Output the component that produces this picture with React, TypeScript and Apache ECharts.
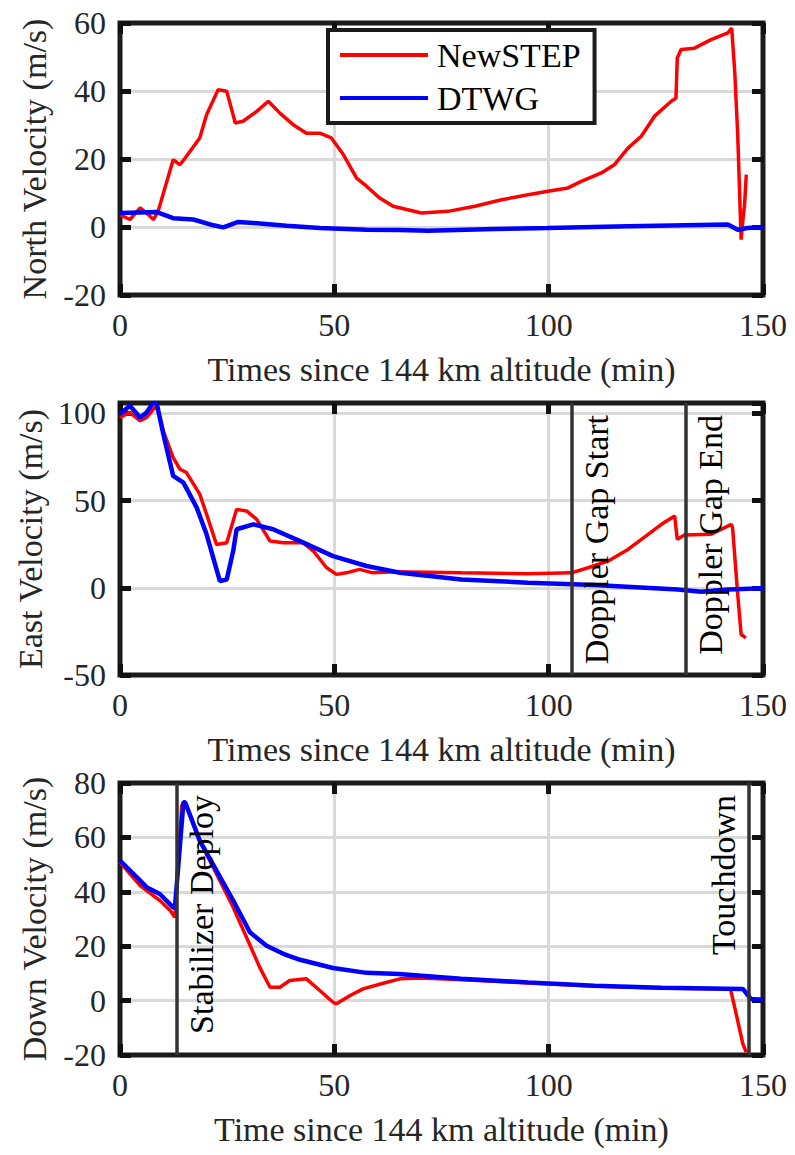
import React, { useEffect, useRef } from 'react';
import * as echarts from 'echarts';

const FONT = 'Liberation Serif';
const TXT = '#262626';

// ---- North velocity ----
const northNewT = [0, 2.3, 4.7, 6.2, 7.8, 8.9, 12.4, 14, 15.2, 18.6, 20.2, 22.9, 24.9, 26.9, 28.7, 31.9, 34.6, 37.3, 40.4, 43.5, 46.6, 49.3, 52.1, 55.2, 57.5, 60.6, 63.7, 70.3, 76.5, 82.8, 89, 95.2, 99.8, 104.5, 107.6, 112.3, 115.4, 118.5, 121.6, 124.7, 128.6, 129.7, 130, 130.9, 134, 137.9, 141.8, 142.7, 143.4, 144.1, 144.9, 145.3, 145.7, 146.1];
const northNewV = [3.6, 2.2, 5.6, 4.1, 2.2, 4.6, 19.8, 18.3, 20.3, 26.2, 33, 40.4, 39.9, 30.6, 31.1, 34, 37, 33.5, 30.1, 27.6, 27.6, 26.2, 21.3, 14.4, 12, 8.5, 6.1, 4.1, 4.6, 6.1, 8, 9.5, 10.5, 11.5, 13.4, 15.9, 18.4, 23.2, 26.7, 32.6, 37, 37.9, 49.7, 52.2, 52.6, 55.1, 57.1, 58.5, 45.8, 27.2, -3.7, 2, 6.6, 15.4];
const northDtwgT = [0, 8.6, 12.4, 17.1, 21.8, 24.1, 27.6, 31.1, 38.9, 46.6, 57.5, 65.1, 71.9, 87.4, 99.8, 118.5, 141.8, 144.1, 146.4, 150];
const northDtwgV = [4.1, 4.4, 2.6, 2.2, 0.5, -0.1, 1.5, 1.2, 0.4, -0.3, -0.8, -0.9, -1.1, -0.6, -0.3, 0.2, 0.7, -0.8, -0.3, 0];

// ---- East velocity ----
const eastNewT = [0, 2.3, 4.7, 6.2, 7.8, 8.6, 10.1, 12.4, 14, 15.5, 18.6, 20.2, 22.5, 24.9, 27.2, 29.5, 31.9, 35, 38.1, 42.7, 45.1, 48.2, 50.5, 52.8, 55.9, 59, 64.1, 79.6, 95.2, 105.3, 109.2, 113.8, 118.5, 123.2, 126.3, 129.4, 130, 131.7, 137.9, 142.6, 142.9, 144.1, 144.9, 146];
const eastNewV = [97.7, 100.6, 95.8, 97.7, 102.5, 104.4, 90, 74.7, 68, 66.1, 53.7, 42.2, 24.9, 25.9, 45, 44.1, 39.3, 26.8, 25.9, 25.9, 21.1, 11.5, 7.7, 8.6, 10.6, 8.6, 9.2, 8.6, 8, 8.6, 11.5, 15.3, 22, 30.7, 36.4, 41.2, 27.8, 30.3, 30.7, 36.4, 34.5, -3.8, -26.8, -28.7];
const eastDtwgT = [0, 2.3, 4.7, 6.2, 7.8, 8.6, 10.1, 12.4, 14.8, 17.9, 20.2, 23.3, 24.9, 26.4, 27.2, 31.1, 35.7, 42, 49.7, 57.5, 65.3, 79.6, 95.2, 110.7, 130.1, 135.6, 141.8, 150];
const eastDtwgV = [99.7, 104.4, 97.7, 100.6, 106.3, 105.4, 88.2, 64.2, 60.3, 46, 30.7, 3.9, 4.8, 21.1, 33.6, 36.4, 33.6, 26.8, 18.2, 12.5, 8.6, 4.8, 2.9, 1.6, -0.9, -2.3, -0.9, -0.3];

// ---- Down velocity ----
const downNewT = [0, 4.7, 9.3, 11.7, 12.8, 14.4, 15.2, 18.6, 23.3, 26.4, 29.5, 32.6, 35, 37.3, 39.6, 43.5, 46.6, 49.7, 50.5, 53.6, 56.7, 61.4, 65.3, 70, 80, 95, 110, 126, 142.4, 143.4, 145.3, 146.1];
const downNewV = [50.8, 42.3, 36.8, 33.1, 30.6, 71.7, 72.9, 58.8, 44.1, 34.3, 23.3, 12.2, 4.9, 4.9, 7.4, 8, 3.7, -0.6, -1.2, 1.8, 4.3, 6.4, 8, 8.3, 7.7, 6.5, 5.4, 4.6, 4.3, -2.5, -15.9, -19];
const downDtwgT = [0, 4.7, 6.2, 9.3, 12.4, 12.8, 14.8, 15.2, 18.6, 22.5, 26.4, 30.3, 34.2, 38.1, 42, 49.7, 57.5, 65, 79.6, 95.2, 110.7, 126.3, 145.3, 147.2, 150];
const downDtwgV = [51.5, 44.1, 41.7, 39.2, 34.3, 34, 72.9, 72.9, 58.8, 47.8, 36.8, 25.1, 20.2, 17.2, 15, 12, 10.2, 9.8, 8, 6.7, 5.5, 4.7, 4.3, 0.6, 0.3];

// ---- axes / annotations ----
const xTitles = ['Times since 144 km altitude (min)', 'Times since 144 km altitude (min)', 'Time since 144 km altitude (min)'];
const yTitles = ['North Velocity (m/s)', 'East Velocity (m/s)', 'Down Velocity (m/s)'];
const yMins = [-20, -50, -20];
const yMaxs = [60, 106, 80];
const yIntervals = [20, 50, 20];
const xMin = 0;
const xMax = 150;
const xInterval = 50;
const eastEvents = [
  { x: 105.4, label: 'Doppler Gap Start', side: 'right' },
  { x: 131.9, label: 'Doppler Gap End', side: 'right' },
];
const downEvents = [
  { x: 13.2, label: 'Stabilizer Deploy', side: 'right' },
  { x: 146.6, label: 'Touchdown', side: 'left' },
];

const zip = (t: number[], v: number[]) => t.map((x, i) => [x, v[i]]);

export default function App() {
  const ref = useRef<HTMLDivElement>(null);
  useEffect(() => {
    document.body.style.margin = '0';
    const chart = echarts.init(ref.current as HTMLDivElement, null, { renderer: 'svg' });
    const tops = [23, 403, 783];
    const grid = tops.map((t) => ({
      left: 120, right: 32, top: t, height: 272,
      show: true, borderColor: '#1c1c1c', borderWidth: 5, backgroundColor: 'transparent',
    }));
    const noLine = () => ({ show: false, onZero: false });
    const tick = () => ({ show: true, inside: true, length: 11, lineStyle: { color: '#111111', width: 5 } });
    const split = () => ({ show: true, showMinLine: false, showMaxLine: false, lineStyle: { color: '#d9d9d9', width: 3 } });
    const xAxis: any[] = [];
    const yAxis: any[] = [];
    for (let i = 0; i < 3; i++) {
      const xb = { type: 'value', gridIndex: i, min: xMin, max: xMax, interval: xInterval };
      const yb = { type: 'value', gridIndex: i, min: yMins[i], max: yMaxs[i], interval: yIntervals[i] };
      // grid lines only (drawn first, underneath)
      xAxis.push({
        ...xb, position: 'bottom', offset: 0,
        axisLine: noLine(), axisTick: { show: false }, splitLine: split(), axisLabel: { show: false },
      });
      // bottom x axis: labels, ticks, title
      xAxis.push({
        ...xb, position: 'bottom',
        axisLine: noLine(), axisTick: tick(), splitLine: { show: false },
        axisLabel: { fontSize: 32, fontFamily: FONT, color: TXT, margin: 14 },
        name: xTitles[i], nameLocation: 'middle', nameGap: 57,
        nameTextStyle: { fontSize: 34, fontFamily: FONT, color: TXT },
      });
      // top x axis: ticks only
      xAxis.push({
        ...xb, position: 'top',
        axisLine: noLine(), axisTick: tick(), splitLine: { show: false }, axisLabel: { show: false },
      });
      yAxis.push({
        ...yb, position: 'left', offset: 0,
        axisLine: noLine(), axisTick: { show: false }, splitLine: split(), axisLabel: { show: false },
      });
      yAxis.push({
        ...yb, position: 'left',
        axisLine: noLine(), axisTick: tick(), splitLine: { show: false },
        axisLabel: { fontSize: 32, fontFamily: FONT, color: TXT, margin: 14, showMaxLabel: i !== 1 },
        name: yTitles[i], nameLocation: 'middle', nameGap: 69,
        nameTextStyle: { fontSize: 34, fontFamily: FONT, color: TXT },
      });
      yAxis.push({
        ...yb, position: 'right',
        axisLine: noLine(), axisTick: tick(), splitLine: { show: false }, axisLabel: { show: false },
      });
    }
    const evLine = (evs: any[]) => ({
      silent: true,
      symbol: 'none',
      lineStyle: { color: '#333333', width: 3.5, type: 'solid' },
      data: evs.map((e) => ({
        xAxis: e.x,
        label: {
          show: true,
          formatter: e.label,
          position: e.side === 'right' ? 'insideEndBottom' : 'insideEndTop',
          distance: [12, 8],
          fontSize: 34,
          fontFamily: FONT,
          color: '#000',
        },
      })),
    });
    const red = (data: number[][], i: number) => ({
      name: 'NewSTEP', type: 'line', xAxisIndex: i * 3, yAxisIndex: i * 3, data,
      showSymbol: false, lineStyle: { color: '#ff0000', width: 3.5 }, itemStyle: { color: '#ff0000' },
    });
    const blue = (data: number[][], i: number, ml?: any) => ({
      name: 'DTWG', type: 'line', xAxisIndex: i * 3, yAxisIndex: i * 3, data,
      showSymbol: false, lineStyle: { color: '#0000ff', width: 4.5 }, itemStyle: { color: '#0000ff' },
      ...(ml ? { markLine: ml } : {}),
    });
    chart.setOption({
      animation: false,
      backgroundColor: '#ffffff',
      textStyle: { fontFamily: FONT },
      grid,
      xAxis,
      yAxis,
      legend: {
        data: ['NewSTEP', 'DTWG'],
        orient: 'vertical', left: 328, top: 30,
        icon: 'rect', itemWidth: 88, itemHeight: 4, itemGap: 9,
        padding: [8, 14, 8, 12],
        borderColor: '#1c1c1c', borderWidth: 4, backgroundColor: '#fff',
        textStyle: { fontSize: 34, fontFamily: FONT, color: '#000', lineHeight: 34, padding: [0, 0, 0, 4] },
        selectedMode: false,
      },
      series: [
        red(zip(northNewT, northNewV), 0),
        blue(zip(northDtwgT, northDtwgV), 0),
        red(zip(eastNewT, eastNewV), 1),
        blue(zip(eastDtwgT, eastDtwgV), 1, evLine(eastEvents)),
        red(zip(downNewT, downNewV), 2),
        blue(zip(downDtwgT, downDtwgV), 2, evLine(downEvents)),
      ],
    });
    return () => chart.dispose();
  }, []);
  return <div ref={ref} style={{ position: 'absolute', left: 0, top: 0, width: 795, height: 1155 }} />;
}
